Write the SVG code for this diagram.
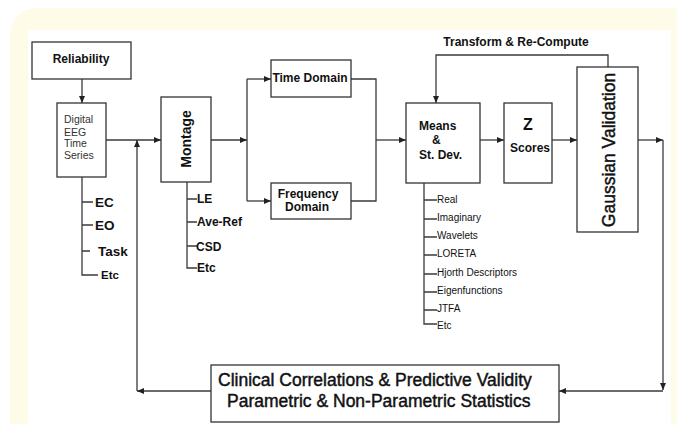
<svg xmlns="http://www.w3.org/2000/svg" width="677" height="424" viewBox="0 0 677 424">
<style>
text{font-family:"Liberation Sans",Arial,sans-serif;fill:#111}
.b{font-weight:bold}
.box{fill:#fff;stroke:#333;stroke-width:1.3}
.ln{fill:none;stroke:#3a3a3a;stroke-width:1.3}
.s10{font-size:10px}
.s12{font-size:12px}
.s14{font-size:14px}
.g{fill:#333}
.big{font-size:17.5px;stroke:#111;stroke-width:0.45}
</style>
<defs>
<marker id="ah" markerUnits="userSpaceOnUse" markerWidth="7" markerHeight="6" refX="7" refY="3" orient="auto">
<path d="M0,0 L7,3 L0,6 z" fill="#222"/>
</marker>
</defs>
<rect x="0" y="0" width="677" height="424" fill="#fff"/>
<rect x="10" y="8" width="690" height="440" rx="26" fill="#fffbe9"/>
<rect x="28" y="30" width="643" height="400" fill="#fff"/>

<g id="connectors" class="ln">
<path d="M82,79 V103" marker-end="url(#ah)"/>
<path d="M106,140 H161" marker-end="url(#ah)"/>
<path d="M211,140 H247" marker-end="url(#ah)"/>
<path d="M247,79 V201"/>
<path d="M247,79 H271" marker-end="url(#ah)"/>
<path d="M247,201 H271" marker-end="url(#ah)"/>
<path d="M351,79 H376 V201 H351"/>
<path d="M376,140 H406" marker-end="url(#ah)"/>
<path d="M480,140 H504" marker-end="url(#ah)"/>
<path d="M552,140 H577" marker-end="url(#ah)"/>
<path d="M608,67 V55 H436 V103" marker-end="url(#ah)"/>
<path d="M638,140 H663" marker-end="url(#ah)"/>
<path d="M663,140 V390" marker-end="url(#ah)"/>
<path d="M663,391 H559" marker-end="url(#ah)"/>
<path d="M211,391 H137" marker-end="url(#ah)"/>
<path d="M137,391 V140" marker-end="url(#ah)"/>
</g>

<g id="reliability">
<rect class="box" x="32" y="42" width="99" height="37"/>
<text class="b s12" x="81" y="63" text-anchor="middle">Reliability</text>
</g>

<g id="eeg">
<rect class="box" x="57" y="103" width="49" height="74"/>
<text class="g" font-size="10.5" x="64" y="123">Digital</text>
<text class="g" font-size="10.5" x="64" y="136">EEG</text>
<text class="g" font-size="10.5" x="64" y="147">Time</text>
<text class="g" font-size="10.5" x="64" y="159">Series</text>
<path class="ln" d="M82,177 V275 H98 M82,202 H93 M82,225 H93 M82,251 H90"/>
<text class="b" font-size="13.5" x="95" y="207">EC</text>
<text class="b" font-size="13.5" x="95" y="230">EO</text>
<text class="b" font-size="13.5" x="98" y="256">Task</text>
<text class="b" font-size="11.5" x="101" y="279">Etc</text>
</g>

<g id="montage">
<rect class="box" x="161" y="97" width="50" height="85"/>
<text class="b s14" transform="translate(191,139) rotate(-90)" text-anchor="middle">Montage</text>
<path class="ln" d="M187,182 V268 H197 M187,199 H197 M187,222 H197 M187,246 H197"/>
<text class="b s12" x="197" y="203">LE</text>
<text class="b s12" x="197" y="226">Ave-Ref</text>
<text class="b s12" x="196" y="251">CSD</text>
<text class="b s12" x="197" y="272">Etc</text>
</g>

<g id="time-domain">
<rect class="box" x="271" y="60" width="80" height="37"/>
<text class="b s12" x="310" y="82" text-anchor="middle">Time Domain</text>
</g>

<g id="frequency-domain">
<rect class="box" x="271" y="183" width="80" height="36"/>
<text class="b s12" x="308" y="198" text-anchor="middle">Frequency</text>
<text class="b s12" x="307" y="211" text-anchor="middle">Domain</text>
</g>

<g id="means">
<rect class="box" x="406" y="103" width="74" height="80"/>
<text class="b s12" x="419" y="130">Means</text>
<text class="b s12" x="432" y="144">&amp;</text>
<text class="b s12" x="419" y="159">St. Dev.</text>
<path class="ln" d="M424,183 V324 H437 M424,200 H437 M424,219 H437 M424,237 H437 M424,255 H437 M424,274 H437 M424,292 H437 M424,310 H437"/>
<text class="s10" x="437" y="203">Real</text>
<text class="s10" x="437" y="221">Imaginary</text>
<text class="s10" x="437" y="239">Wavelets</text>
<text class="s10" x="437" y="257">LORETA</text>
<text class="s10" x="437" y="276">Hjorth Descriptors</text>
<text class="s10" x="437" y="294">Eigenfunctions</text>
<text class="s10" x="437" y="312">JTFA</text>
<text class="s10" x="437" y="329">Etc</text>
</g>

<g id="z-scores">
<rect class="box" x="504" y="103" width="48" height="80"/>
<text class="b" font-size="16" x="528" y="130" text-anchor="middle">Z</text>
<text class="b s12" x="530" y="152" text-anchor="middle">Scores</text>
</g>

<g id="gaussian">
<rect class="box" x="577" y="67" width="61" height="165"/>
<text class="big" transform="translate(615,150) rotate(-90)" text-anchor="middle">Gaussian Validation</text>
</g>

<text id="transform-label" class="b s12" x="516" y="46" text-anchor="middle">Transform &amp; Re-Compute</text>

<g id="clinical">
<rect class="box" x="211" y="365" width="348" height="57"/>
<text class="big" x="218" y="386">Clinical Correlations &amp; Predictive Validity</text>
<text class="big" x="227" y="407">Parametric &amp; Non-Parametric Statistics</text>
</g>
</svg>
